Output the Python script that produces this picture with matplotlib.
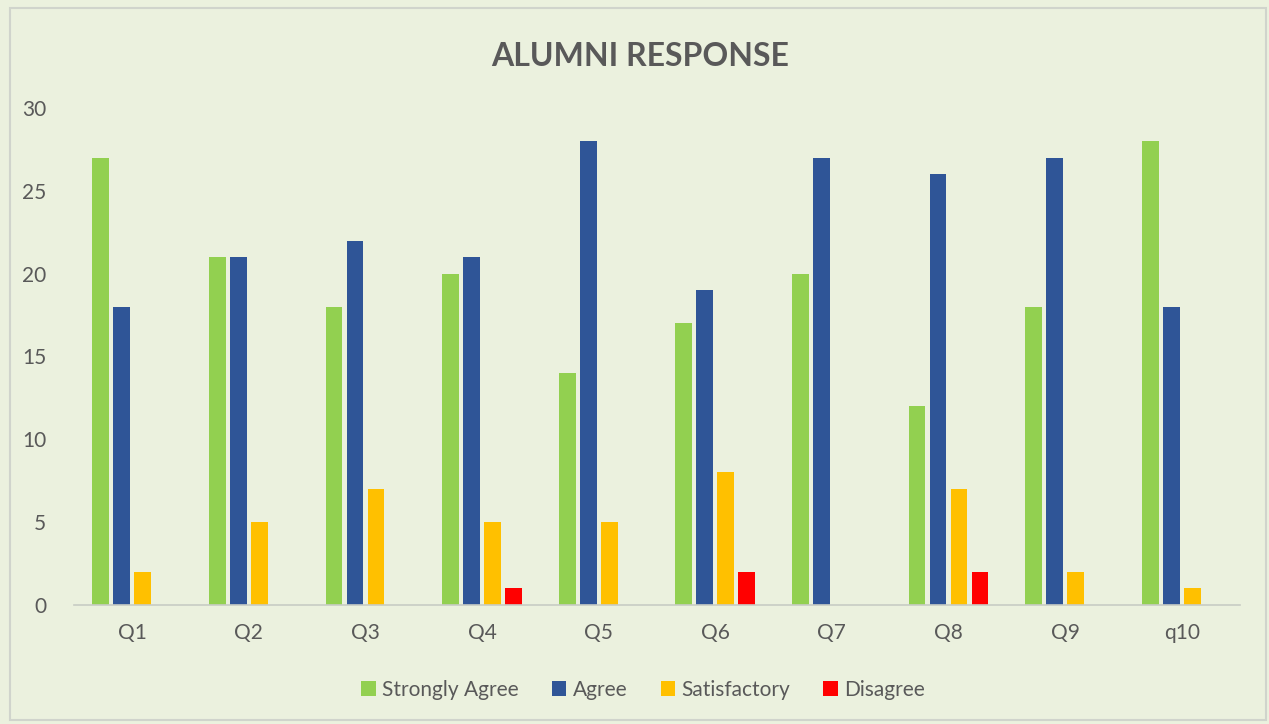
import matplotlib
matplotlib.use("Agg")
import matplotlib.pyplot as plt
from matplotlib.patches import Rectangle
import numpy as np

plt.rcParams['font.family'] = ['Lato', 'DejaVu Sans']

categories = ["Q1", "Q2", "Q3", "Q4", "Q5", "Q6", "Q7", "Q8", "Q9", "q10"]
strongly_agree = [27, 21, 18, 20, 14, 17, 20, 12, 18, 28]
agree = [18, 21, 22, 21, 28, 19, 27, 26, 27, 18]
satisfactory = [2, 5, 7, 5, 5, 8, 0, 7, 2, 1]
disagree = [0, 0, 0, 1, 0, 2, 0, 2, 0, 0]

series = [
    ("Strongly Agree", strongly_agree, "#92D050"),
    ("Agree", agree, "#2F5597"),
    ("Satisfactory", satisfactory, "#FFC000"),
    ("Disagree", disagree, "#FF0000"),
]

bg = "#EBF1DE"
text_col = "#595959"

W, H = 1269, 724
fig = plt.figure(figsize=(W / 100, H / 100), dpi=100, facecolor=bg)
fig.patches.append(Rectangle((10 / W, 4 / H), 1256 / W, 712 / H, transform=fig.transFigure,
                             fill=False, edgecolor="#D0D4CC", linewidth=1.5))

ax = fig.add_axes([74 / W, 1 - 605 / H, 1166 / W, (605 - 108) / H])
ax.set_facecolor(bg)

x = np.arange(len(categories))
step = 0.18
width = 0.145
for i, (name, vals, col) in enumerate(series):
    ax.bar(x + (i - 1.5) * step, vals, width=width, color=col, label=name)

ax.set_xlim(-0.5, len(categories) - 0.5)
ax.set_ylim(0, 30)
ax.set_yticks(range(0, 31, 5))
ax.set_xticks(x)
ax.set_xticklabels(categories)
ax.tick_params(axis='both', length=0, labelsize=15, labelcolor=text_col)
ax.tick_params(axis='x', pad=13)
ax.tick_params(axis='y', pad=20)
for s in ["top", "right", "left"]:
    ax.spines[s].set_visible(False)
ax.spines["bottom"].set_color("#C8CCC4")
ax.spines["bottom"].set_linewidth(1.2)

fig.text(640 / W, 1 - 56 / H, "ALUMNI RESPONSE", ha="center", va="center",
         fontsize=23, fontweight="bold", color=text_col)

handles, labels = ax.get_legend_handles_labels()
fig.legend(handles, labels, loc="center", bbox_to_anchor=(643 / W, 1 - 690 / H), ncol=4,
           frameon=False, fontsize=15, labelcolor=text_col, handlelength=0.7, handleheight=0.7,
           handletextpad=0.3, columnspacing=1.6)

fig.savefig("out.png", dpi=100, facecolor=bg)
